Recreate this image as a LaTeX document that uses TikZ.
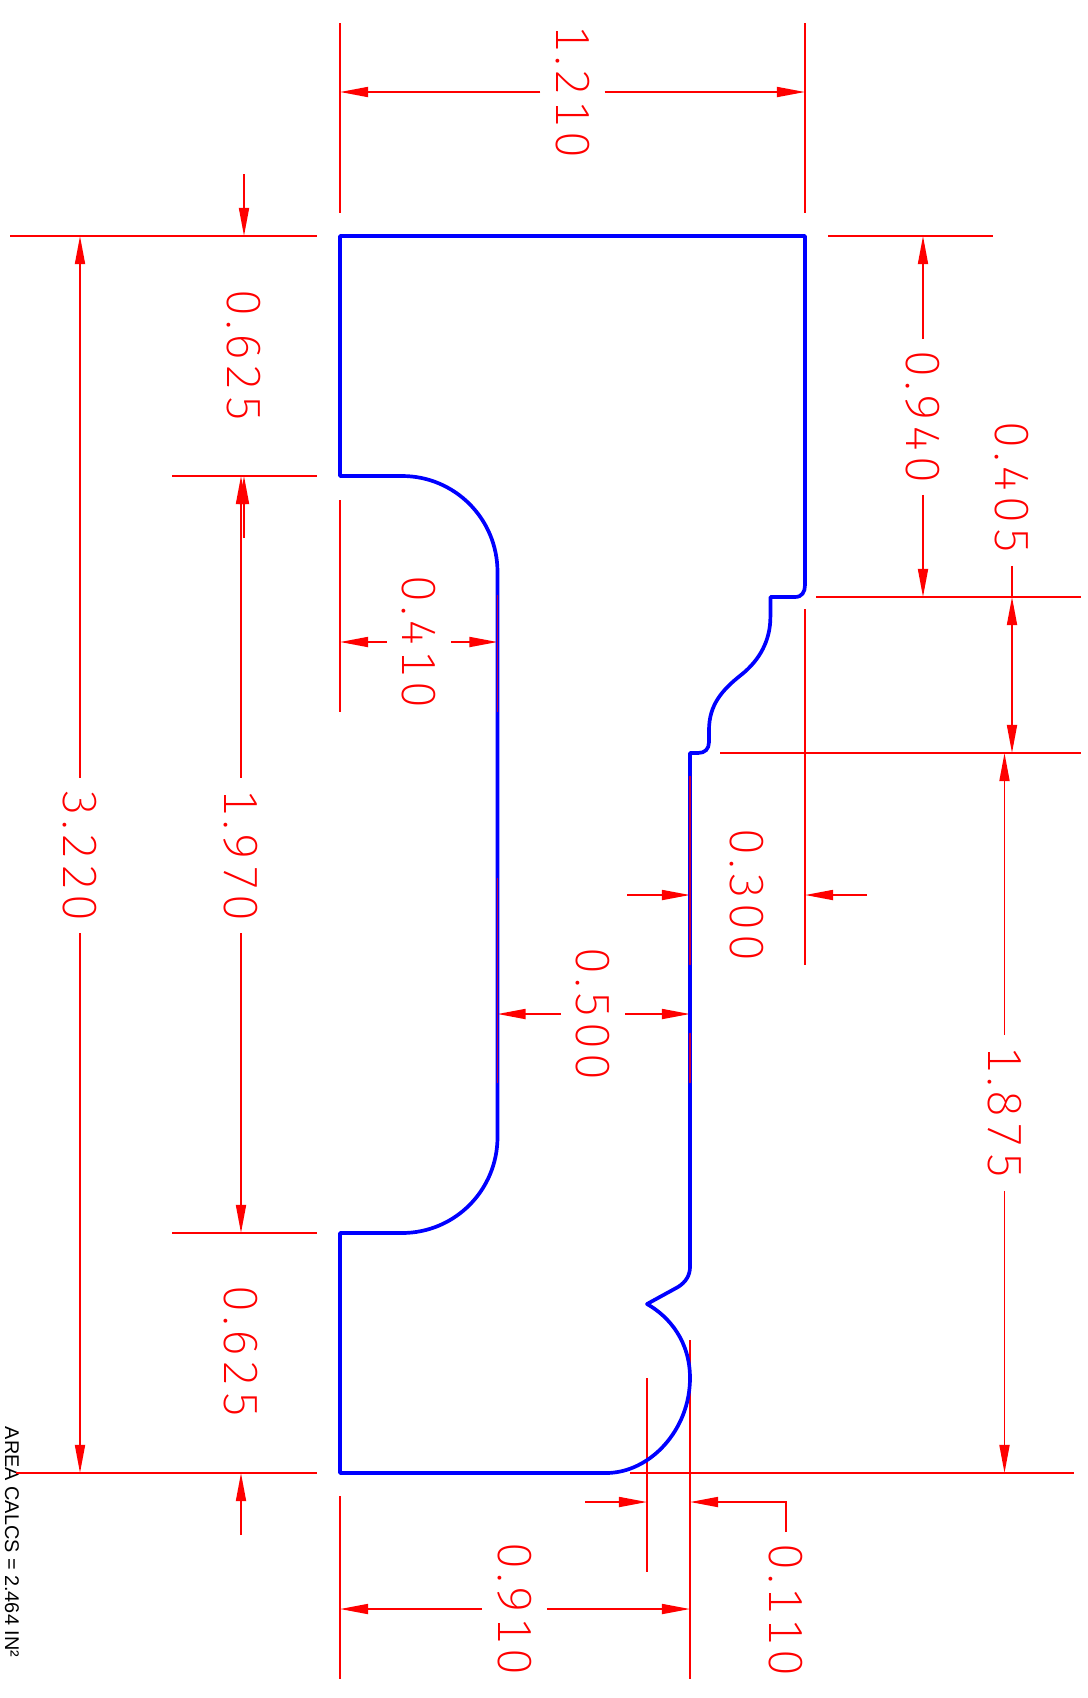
\documentclass[tikz,border=0pt]{standalone}
\usepackage{fontspec}
\usetikzlibrary{arrows.meta}
\newfontfamily\dimfont{Fira Sans}[UprightFont=* ExtraLight, Numbers=Monospaced, LetterSpace=8]
\newfontfamily\notefont{Liberation Sans}
\tikzstyle{dimline}=[draw=red, line width=1pt]
\tikzstyle{overlap}=[draw=red!75!blue, line width=0.7pt]
\tikzstyle{dimarrow}=[dimline, -{Triangle[length=16pt, width=5.7pt]}]
\tikzstyle{dimtext}=[rotate=-90, text=red, inner xsep=6.5pt, inner ysep=8.5pt, font=\dimfont\fontsize{27.3}{30}\selectfont]
\tikzstyle{outline}=[draw=blue, line width=2.1pt, line join=round]

\begin{document}
\begin{tikzpicture}[x=0.02cm, y=-0.02cm]
    \useasboundingbox (0,0) rectangle (1088,1698);

    \node[dimtext] (t1210) at (572.5,92) {1.210};
    \node[dimtext] (ta625) at (244,356) {0.625};
    \node[dimtext] (t940) at (923,417) {0.940};
    \node[dimtext] (t405) at (1012,488) {0.405};
    \node[dimtext] (t410) at (419,642) {0.410};
    \node[dimtext] (t1970) at (241,855.5) {1.970};
    \node[dimtext] (t3220) at (80,855.5) {3.220};
    \node[dimtext] (t300) at (747,895) {0.300};
    \node[dimtext] (t500) at (593,1014) {0.500};
    \node[dimtext] (t1875) at (1004.5,1113) {1.875};
    \node[dimtext] (tb625) at (241,1352) {0.625};
    \node[dimtext] (t910) at (514.5,1609) {0.910};
    \node[dimtext] (t110) at (786,1610) {0.110};
    \node[rotate=-90, inner sep=0pt, font=\notefont\fontsize{11.3}{13}\selectfont] (area) at (12,1542) {AREA CALCS = 2.464 IN²};

    \foreach \xa/\xb/\yy in {10/317/236, 828/993/236, 172/317/476, 172/317/1233, 16/317/1473, 630/1074/1473, 816/1081/597, 720/1081/753}
        \draw[dimline] (\xa,\yy) -- (\xb,\yy);
    \foreach \xx/\ya/\yb in {340/23/213, 340/500/712, 340/1496/1679, 805/23/213, 805/609/965, 690/1340/1679, 647/1378/1572}
        \draw[dimline] (\xx,\ya) -- (\xx,\yb);

    \draw[dimarrow] (t1210) -- (340,92);
    \draw[dimarrow] (t1210) -- (805,92);
    \draw[dimarrow] (244,174) -- (244,236);
    \draw[dimarrow] (244,538) -- (244,476);
    \draw[dimarrow] (t940) -- (t940 |- 0,236);
    \draw[dimarrow] (t940) -- (t940 |- 0,597);
    \draw[dimline] (t405) -- (t405 |- 0,597);
    \draw[dimarrow, {Triangle[length=16pt, width=5.7pt]}-{Triangle[length=16pt, width=5.7pt]}] (1012,597) -- (1012,753);
    \draw[dimarrow] (t410) -- (340,642);
    \draw[dimarrow] (t410) -- (497.5,642);
    \draw[dimarrow] (t1970) -- (t1970 |- 0,476);
    \draw[dimarrow] (t1970) -- (t1970 |- 0,1233);
    \draw[dimarrow] (t3220) -- (t3220 |- 0,236);
    \draw[dimarrow] (t3220) -- (t3220 |- 0,1473);
    \draw[dimarrow] (627,895) -- (690,895);
    \draw[dimarrow] (867,895) -- (805,895);
    \draw[dimarrow] (t500) -- (497.5,1014);
    \draw[dimarrow] (t500) -- (690,1014);
    \draw[dimarrow] (t1875) -- (t1875 |- 0,753);
    \draw[dimarrow] (t1875) -- (t1875 |- 0,1473);
    \draw[dimarrow] (241,1535) -- (241,1473);
    \draw[dimarrow] (t910) -- (340,1609);
    \draw[dimarrow] (t910) -- (690,1609);
    \draw[dimarrow] (585,1502) -- (647,1502);
    \draw[dimarrow] (t110) |- (690,1502);

    \draw[outline] (340,236) -- (805,236) -- (805,585)
        .. controls (805,592) and (802,597) .. (795,597) -- (770.4,597) -- (770.4,617)
        .. controls (770.4,640) and (760,660) .. (741,675)
        .. controls (722,690) and (709,705) .. (709,730) -- (709,742)
        .. controls (709,749) and (705,753) .. (698,753) -- (690,753) -- (690,1267)
        .. controls (690,1275) and (686,1282) .. (678,1287) -- (647,1304)
        .. controls (670,1317) and (690,1342) .. (690,1378)
        .. controls (690,1430) and (650,1473) .. (606,1473) -- (340,1473) -- (340,1233) -- (402,1233)
        .. controls (455,1233) and (497.5,1190) .. (497.5,1137) -- (497.5,572)
        .. controls (497.5,519) and (455,476) .. (402,476) -- (340,476) -- cycle;

    \foreach \xx/\ya/\yb in {497.5/595/712, 497.5/878/1083, 690/776/965, 690/1033/1083}
        \draw[overlap] (\xx,\ya) -- (\xx,\yb);
\end{tikzpicture}
\end{document}
